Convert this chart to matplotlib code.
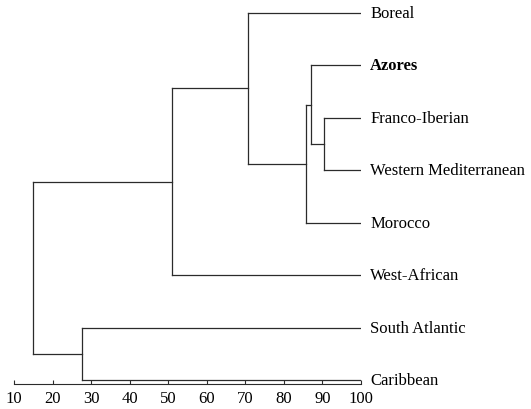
import matplotlib
matplotlib.use("Agg")
from matplotlib import pyplot as plt

# leaves from top to bottom
leaves = ["Boreal", "Azores", "Franco-Iberian", "Western Mediterranean",
          "Morocco", "West-African", "South Atlantic", "Caribbean"]

# merges: (left child, right child, similarity level)
# children are leaf indices or "cN" for the N-th cluster made here
merge_a = [2, 1, 4, 0, 5, 6, "c4"]
merge_b = [3, "c0", "c1", "c2", "c3", 7, "c5"]
merge_level = [90.5, 87.0, 85.7, 70.7, 51.0, 27.6, 14.9]

xticks = [10, 20, 30, 40, 50, 60, 70, 80, 90, 100]

plt.rcParams['font.family'] = ['Liberation Serif', 'DejaVu Serif']

fig = plt.figure(figsize=(5.31, 4.10), dpi=100)
ax = fig.add_axes([14 / 531, 1 - 385 / 410, 347 / 531, 385 / 410])

n = len(leaves)
# y position of each leaf (top leaf highest)
pos = {i: (n - 1 - i, 100.0) for i in range(n)}

lc = "#2b2b2b"
for k, (a, b, lev) in enumerate(zip(merge_a, merge_b, merge_level)):
    ya, xa = pos[a]
    yb, xb = pos[b]
    ax.plot([xa, lev], [ya, ya], color=lc, lw=0.9)
    ax.plot([xb, lev], [yb, yb], color=lc, lw=0.9)
    ax.plot([lev, lev], [ya, yb], color=lc, lw=0.9)
    pos["c%d" % k] = ((ya + yb) / 2, lev)

for i, name in enumerate(leaves):
    ax.text(102.4, n - 1 - i, name, fontsize=12, va="center", ha="left",
            fontweight="bold" if name == "Azores" else "normal")

ax.set_xlim(10, 100)
ax.set_ylim(-0.076, n - 1 + 0.267)
ax.set_xticks(xticks)
ax.set_yticks([])
for s in ["top", "right", "left"]:
    ax.spines[s].set_visible(False)
ax.spines["bottom"].set_color(lc)
ax.tick_params(axis="x", direction="in", length=3, labelsize=12, pad=4, color=lc)

fig.savefig("out.png", dpi=100)
